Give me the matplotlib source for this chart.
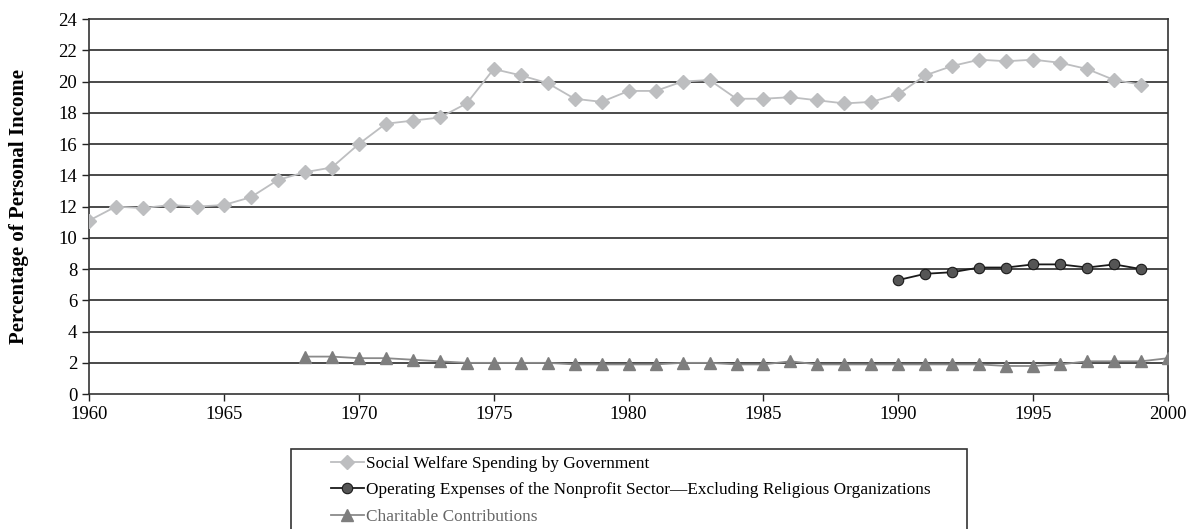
#!/usr/bin/env python3
"""Social welfare, nonprofit and charitable spending as a share of personal income."""

import matplotlib

matplotlib.use("Agg")
import matplotlib.pyplot as plt
from matplotlib.patches import Rectangle

plt.rcParams["font.family"] = ["Liberation Serif", "DejaVu Serif"]

YEARS_WELFARE = list(range(1960, 2000))
WELFARE = [
    11.1, 12.0, 11.9, 12.1, 12.0, 12.1, 12.6, 13.7, 14.2, 14.5,
    16.0, 17.3, 17.5, 17.7, 18.6, 20.8, 20.4, 19.9, 18.9, 18.7,
    19.4, 19.4, 20.0, 20.1, 18.9, 18.9, 19.0, 18.8, 18.6, 18.7,
    19.2, 20.4, 21.0, 21.4, 21.3, 21.4, 21.2, 20.8, 20.1, 19.8,
]

YEARS_NONPROFIT = list(range(1990, 2000))
NONPROFIT = [7.3, 7.7, 7.8, 8.1, 8.1, 8.3, 8.3, 8.1, 8.3, 8.0]

YEARS_CHARITY = list(range(1968, 2001))
CHARITY = [
    2.4, 2.4, 2.3, 2.3, 2.2, 2.1, 2.0, 2.0, 2.0, 2.0,
    1.9, 1.9, 1.9, 1.9, 2.0, 2.0, 1.9, 1.9, 2.1, 1.9,
    1.9, 1.9, 1.9, 1.9, 1.9, 1.9, 1.8, 1.8, 1.9, 2.1,
    2.1, 2.1, 2.3,
]

LABELS = [
    "Social Welfare Spending by Government",
    "Operating Expenses of the Nonprofit Sector\u2014Excluding Religious Organizations",
    "Charitable Contributions",
]


def main() -> None:
    fig = plt.figure(figsize=(11.86, 5.29), dpi=100)
    ax = fig.add_axes([0.075, 0.255, 0.910, 0.709])

    for y in range(2, 24, 2):
        ax.axhline(y, color="#2a2a2a", lw=1.2, zorder=1)

    h1, = ax.plot(YEARS_WELFARE, WELFARE, color="#bdbec0", lw=1.3,
                  marker="D", ms=7, mfc="#bdbec0", mec="#bdbec0", zorder=3)
    h2, = ax.plot(YEARS_NONPROFIT, NONPROFIT, color="#1a1a1a", lw=1.3,
                  marker="o", ms=7.5, mfc="#555555", mec="#1a1a1a", mew=0.8, zorder=3)
    h3, = ax.plot(YEARS_CHARITY, CHARITY, color="#8a8a8a", lw=1.3,
                  marker="^", ms=8.5, mfc="#7e7e7e", mec="#7e7e7e", zorder=3)

    ax.set_xlim(1960, 2000)
    ax.set_ylim(0, 24)
    ax.set_xticks(range(1960, 2001, 5))
    ax.set_yticks(range(0, 25, 2))
    ax.tick_params(axis="both", direction="out", length=5, width=1,
                   labelsize=13.5, color="#222222")
    for side in ["left", "bottom", "right", "top"]:
        ax.spines[side].set_color("#333333")
        ax.spines[side].set_linewidth(1.2)

    ax.set_ylabel("Percentage of Personal Income", fontsize=15,
                  fontweight="bold")
    ax.yaxis.set_label_coords(-0.056, 0.5)

    # legend box sits below the axes and runs off the bottom edge
    fig.patches.append(Rectangle((291 / 1186, -0.05), 676 / 1186, 0.05 + 80 / 529,
                                 transform=fig.transFigure, fill=False,
                                 ec="#333333", lw=1.2))
    leg = fig.legend([h1, h2, h3], LABELS, loc="upper left",
                     bbox_to_anchor=(319 / 1186, 1 - 444 / 529),
                     frameon=False, fontsize=12.4, handlelength=1.9,
                     handletextpad=0.1, labelspacing=0.6, borderpad=0.2)
    leg.get_texts()[2].set_color("#666666")

    fig.savefig("out.png", dpi=100)


if __name__ == "__main__":
    main()
